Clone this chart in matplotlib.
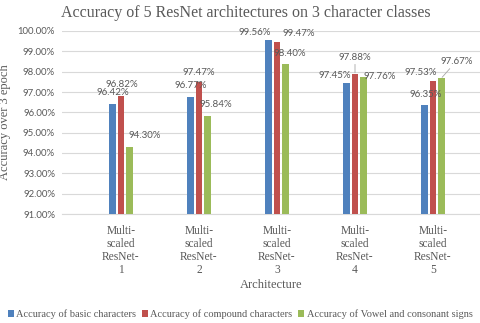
import numpy as np
import matplotlib.pyplot as plt
from matplotlib.ticker import FuncFormatter

# data
categories = ["Multi-\nscaled\nResNet-\n1", "Multi-\nscaled\nResNet-\n2", "Multi-\nscaled\nResNet-\n3",
              "Multi-\nscaled\nResNet-\n4", "Multi-\nscaled\nResNet-\n5"]
basic = [96.42, 96.77, 99.56, 97.45, 96.35]
compound = [96.82, 97.47, 99.47, 97.88, 97.53]
vowel = [94.30, 95.84, 98.40, 97.76, 97.67]
series_names = ["Accuracy of basic characters", "Accuracy of compound characters",
                "Accuracy of Vowel and consonant signs"]

colors = ["#4F81BD", "#C0504D", "#9BBB59"]
# label offsets (pixels) - labels were moved by hand in the original
label_offsets = [
    [(0, 11), (0, 11.5), (-14, 7), (-12.5, 7), (1, 11)],
    [(1, 11.5), (0, 10), (22, 8.6), (0, 17), (-12, 9)],
    [(15, 11), (9, 11), (5, 10), (16, 0), (15, 17)],
]
leader = {(1, 3), (2, 4)}

serif = "Liberation Serif"
sans = "Lato"
px = 0.72  # points per pixel at dpi 100

fig = plt.figure(figsize=(4.8, 3.23), dpi=100)
ax = fig.add_axes([62 / 480, 109 / 323, 418 / 480, 183 / 323])

x = np.arange(len(categories))
step = 0.105
width = 0.085
for i, (vals, name) in enumerate(zip([basic, compound, vowel], series_names)):
    xs = x + (i - 1) * step
    ax.bar(xs, np.array(vals) - 91, bottom=91, width=width, color=colors[i], label=name, zorder=3)
    for j, v in enumerate(vals):
        dx, dy = label_offsets[i][j]
        kw = {}
        if (i, j) in leader:
            kw["arrowprops"] = dict(arrowstyle="-", color="#A6A6A6", lw=0.6, shrinkA=0, shrinkB=1)
        ax.annotate(f"{v:.2f}%", xy=(xs[j], v), xytext=(dx * px, dy * px), textcoords="offset points",
                    ha="center", va="center", fontsize=7.0, family=sans, color="#595959",
                    annotation_clip=False, zorder=4, **kw)

ax.set_ylim(91, 100)
ax.set_xlim(-(121 - 62) / 78, 4 + (480 - 433) / 78)
ax.set_yticks(np.arange(91, 100.5, 1))
ax.yaxis.set_major_formatter(FuncFormatter(lambda v, p: f"{v:.2f}%"))
for lab in ax.get_yticklabels():
    lab.set_family(sans)
    lab.set_fontsize(6.9)
    lab.set_color("#595959")
ax.set_xticks(x)
ax.set_xticklabels(categories, family=serif, fontsize=8.3, color="#595959", linespacing=1.1)
ax.tick_params(axis="y", length=0, pad=5)
ax.tick_params(axis="x", length=0, pad=8)
ax.grid(axis="y", color="#D9D9D9", lw=0.8, zorder=0)
for s in ["top", "right", "left"]:
    ax.spines[s].set_visible(False)
ax.spines["bottom"].set_color("#D9D9D9")

ax.set_title("Accuracy of 5 ResNet architectures on 3 character classes", family=serif,
             fontsize=11.5, color="#595959", pad=10, x=0.44)
ax.set_xlabel("Architecture", family=serif, fontsize=9, color="#595959", labelpad=2)
ax.set_ylabel("Accuracy over 3 epoch", family=serif, fontsize=9, color="#595959", labelpad=5)

fig.legend(loc="lower center", bbox_to_anchor=(0.5, -0.018), ncol=3, frameon=False,
           prop={"family": serif, "size": 7.5}, handlelength=0.6, handleheight=0.6,
           handletextpad=0.25, columnspacing=0.5, labelcolor="#595959")

plt.savefig("out.png", dpi=100)
